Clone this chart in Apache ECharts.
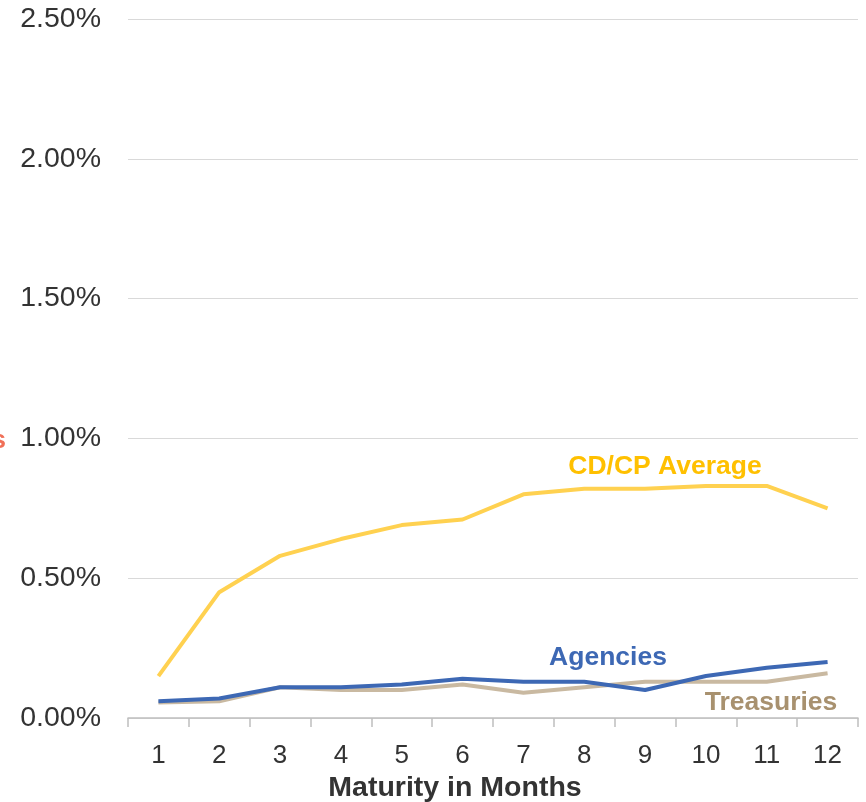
<!DOCTYPE html>
<html>
<head>
<meta charset="utf-8">
<script src="https://cdn.jsdelivr.net/npm/echarts@6/dist/echarts.min.js"></script>
<style>
  html, body { margin: 0; padding: 0; background: #fff; }
  #chart { width: 866px; height: 802px; }
</style>
</head>
<body>
<div id="chart"></div>
<script>
// Maturity buckets (months)
const months = ['1', '2', '3', '4', '5', '6', '7', '8', '9', '10', '11', '12'];

// Yields in percent
const cdcpAverage = [0.15, 0.45, 0.58, 0.64, 0.69, 0.71, 0.80, 0.82, 0.82, 0.83, 0.83, 0.75];
const agencies    = [0.06, 0.07, 0.11, 0.11, 0.12, 0.14, 0.13, 0.13, 0.10, 0.15, 0.18, 0.20];
const treasuries  = [0.055, 0.06, 0.11, 0.10, 0.10, 0.12, 0.09, 0.11, 0.13, 0.13, 0.13, 0.16];

const FONT = '"Liberation Sans", Arial, sans-serif';

const chart = echarts.init(document.getElementById('chart'), null, { renderer: 'canvas' });

// Centered text helper for the in-plot series labels
function label(text, x, y, color, size, align) {
  return {
    type: 'text',
    style: {
      x: x, y: y, text: text, fill: color,
      font: 'bold ' + size + 'px ' + FONT,
      align: align || 'center', verticalAlign: 'middle'
    }
  };
}

chart.setOption({
  animation: false,
  backgroundColor: '#ffffff',
  grid: { left: 128, right: 8, top: 19, bottom: 84, containLabel: false },
  xAxis: {
    type: 'category',
    data: months,
    boundaryGap: true,
    axisLine: { show: true, lineStyle: { color: '#bfbfbf', width: 1.5 } },
    axisTick: { show: true, alignWithLabel: false, length: 9, lineStyle: { color: '#bfbfbf', width: 1.5 } },
    axisLabel: { color: '#333333', fontSize: 26, fontFamily: FONT, margin: 25 },
    splitLine: { show: false }
  },
  yAxis: {
    type: 'value',
    min: 0,
    max: 2.5,
    interval: 0.5,
    axisLine: { show: false },
    axisTick: { show: false },
    axisLabel: {
      color: '#333333', fontSize: 28.5, fontFamily: FONT, margin: 27,
      padding: [6, 0, 0, 0],
      formatter: v => v.toFixed(2) + '%'
    },
    splitLine: { show: true, lineStyle: { color: '#d9d9d9', width: 1 } }
  },
  series: [
    {
      name: 'Treasuries', type: 'line', data: treasuries,
      symbol: 'none', lineStyle: { color: '#c9b9a1', width: 4 }, z: 2
    },
    {
      name: 'Agencies', type: 'line', data: agencies,
      symbol: 'none', lineStyle: { color: '#3d68b4', width: 4 }, z: 3
    },
    {
      name: 'CD/CP Average', type: 'line', data: cdcpAverage,
      symbol: 'none', lineStyle: { color: '#ffd150', width: 4 }, z: 4
    }
  ],
  graphic: [
    label('Maturity in Months', 455, 788, '#333333', 28.5),
    label('CD/CP Average', 665, 467, '#ffc000', 26.5),
    label('Agencies', 608, 658, '#3d68b4', 26.5),
    label('Treasuries', 771, 703, '#a8916f', 26.5),
    label('Yields', 6, 441, '#f07058', 26.5, 'right')
  ]
});
</script>
</body>
</html>
